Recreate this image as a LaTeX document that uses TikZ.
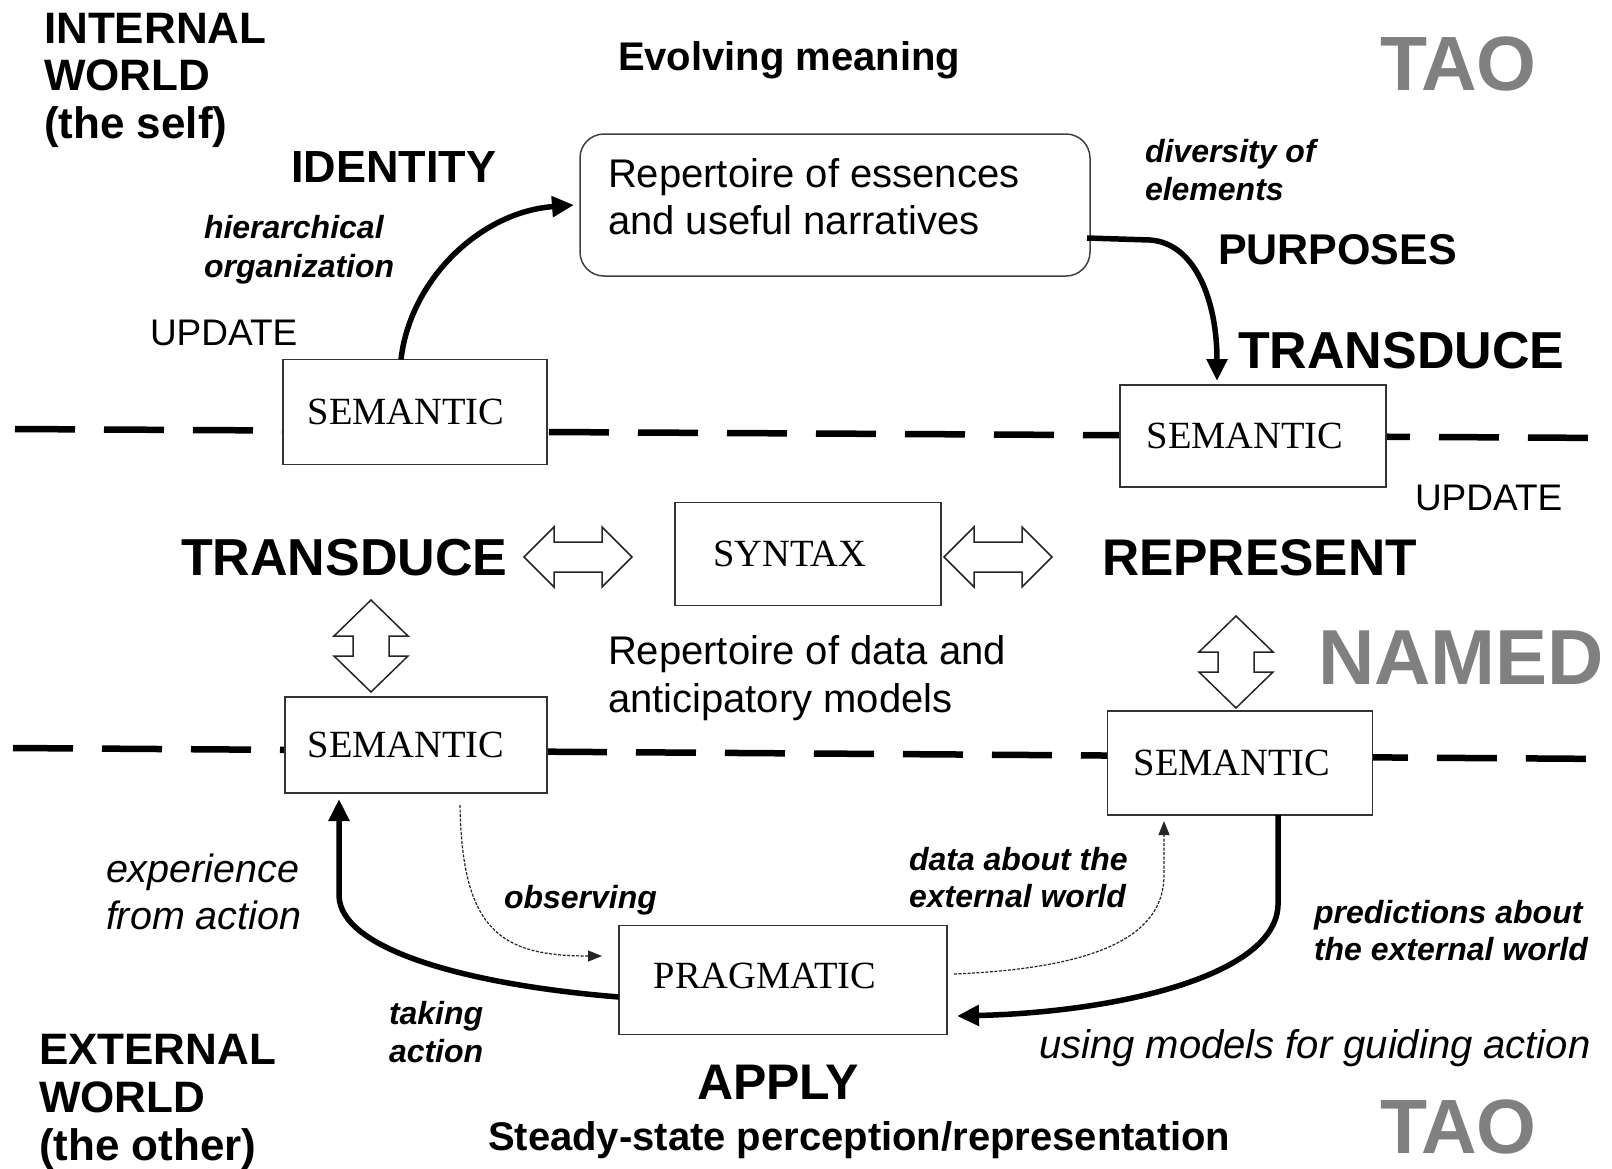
\documentclass[tikz,border=0pt]{standalone}
\usepackage{fontspec}
\setmainfont{Liberation Sans}
\newfontfamily\boxfont{Liberation Serif}
\usetikzlibrary{arrows.meta}
\definecolor{taogray}{gray}{0.5}
\newcommand\fs[2]{\fontsize{#1}{#2}\selectfont}

\begin{document}
\begin{tikzpicture}[x=1pt,y=-1pt,
  every node/.style={inner sep=0pt, outer sep=0pt},
  lbl/.style={anchor=west, align=left},
  boxnode/.style={draw=black!80, line width=1.5pt, fill=white, font=\boxfont\fs{38.5}{40}},
  dashline/.style={line width=6.5pt, dash pattern=on 60pt off 29pt},
  flow/.style={line width=5.5pt, -{Triangle[length=22pt,width=20pt]}},
  probe/.style={line width=1.2pt, black!85, dash pattern=on 3pt off 1.5pt, -{Triangle[length=14pt,width=11pt]}},
  hollow/.style={draw=black!85, line width=1.5pt, fill=white, line join=miter},
  hdouble/.pic={\path[hollow] (-54,0) -- (-24,-30) -- (-24,-15) -- (24,-15) -- (24,-30)
     -- (54,0) -- (24,30) -- (24,15) -- (-24,15) -- (-24,30) -- cycle;},
  vdouble/.pic={\path[hollow] (0,-46) -- (37,-10) -- (18,-10) -- (18,10) -- (37,10)
     -- (0,46) -- (-37,10) -- (-18,10) -- (-18,-10) -- (-37,-10) -- cycle;}
]
\fill[white] (0,0) rectangle (1612,1168);
\useasboundingbox (0,0) rectangle (1612,1168);

% boundary lines between the three worlds
\draw[dashline] (15,429) -- (1612,438);
\draw[dashline] (13,748) -- (1612,759);

% boxes
\node[draw=black!75, line width=1.5pt, fill=white, rounded corners=24pt,
      minimum width=510pt, minimum height=142pt] (repbox) at (835,205) {};
\node[boxnode, minimum width=264pt, minimum height=105pt] (sem1) at (415,412) {\hspace*{-18pt}\raisebox{-1pt}{SEMANTIC}};
\node[boxnode, minimum width=266pt, minimum height=102pt] (sem2) at (1253,436) {\hspace*{-16pt}\raisebox{-2pt}{SEMANTIC}};
\node[boxnode, minimum width=266pt, minimum height=103pt] (syntax) at (808,554) {\hspace*{-36pt}\raisebox{-1pt}{SYNTAX}};
\node[boxnode, minimum width=262pt, minimum height=96pt] (sem3) at (416,745) {\hspace*{-20pt}\raisebox{-4pt}{SEMANTIC}};
\node[boxnode, minimum width=265pt, minimum height=104pt] (sem4) at (1240,763) {\hspace*{-16pt}\raisebox{-1pt}{SEMANTIC}};
\node[boxnode, minimum width=328pt, minimum height=109pt] (prag) at (783,980) {\hspace*{-36pt}\raisebox{8pt}{PRAGMATIC}};

% hollow double arrows
\pic (dl) at (578,557) {hdouble};
\pic (dr) at (998,557) {hdouble};
\pic (vl) at (371,646) {vdouble};
\pic (vr) at (1236,662) {vdouble};

% main cycle
\draw[flow] ([xshift=-14pt]sem1.north) .. controls (410,280) and (480,212) .. ([xshift=-6pt]repbox.west);
\draw[flow] ([xshift=-3pt,yshift=-33pt]repbox.east) -- (1150,240)
   .. controls (1195,243) and (1217,300) .. ([xshift=-36pt,yshift=4pt]sem2.north);
\draw[flow] ([yshift=-17pt]prag.west) .. controls (470,985) and (339,950) .. (339,895)
   -- ([xshift=-77pt,yshift=-6pt]sem3.south);
\draw[flow] ([xshift=38pt]sem4.south) -- (1278,905)
   .. controls (1276,975) and (1120,1012) .. ([xshift=10pt,yshift=-36pt]prag.east);
\draw[probe] ([xshift=44pt,yshift=-12pt]sem3.south) .. controls (462,930) and (500,956)
   .. ([xshift=-17pt,yshift=24pt]prag.west);
\draw[probe] ([xshift=7pt,yshift=6pt]prag.east) .. controls (1100,968) and (1164,935)
   .. (1164,875) -- ([xshift=-76pt,yshift=-6pt]sem4.south);

% labels
\node[lbl, font=\bfseries\fs{44}{47.5}] (inner) at (44,80) {INTERNAL\\WORLD\\(the self)};
\node[lbl, font=\bfseries\fs{40}{48}] (evolve) at (618,60) {Evolving meaning};
\node[lbl, font=\bfseries\fs{77}{80}, text=taogray] (tao1) at (1380,64) {TAO};
\node[lbl, font=\bfseries\fs{45}{50}] (identity) at (291,167) {IDENTITY};
\node[lbl, font=\bfseries\itshape\fs{32}{39}] (hier) at (204,250) {hierarchical\\organization};
\node[lbl, font=\fs{40}{47}] (esstext) at (608,197) {Repertoire of essences\\and useful narratives};
\node[lbl, font=\bfseries\itshape\fs{32}{38}] (divers) at (1145,170) {diversity of\\elements};
\node[lbl, font=\bfseries\fs{43}{48}] (purp) at (1218,250) {PURPOSES};
\node[lbl, font=\fs{37}{40}] (upd1) at (150,333) {UPDATE};
\node[lbl, font=\bfseries\fs{52}{56}] (trans1) at (1238,351) {TRANSDUCE};
\node[lbl, font=\fs{37}{40}] (upd2) at (1415,498) {UPDATE};
\node[lbl, font=\bfseries\fs{52}{56}] (trans2) at (181,558) {TRANSDUCE};
\node[lbl, font=\bfseries\fs{51.5}{56}] (repr) at (1102,558) {REPRESENT};
\node[lbl, font=\bfseries\fs{78}{80}, text=taogray] (named) at (1318,658) {NAMED};
\node[lbl, font=\fs{40}{48}] (datatext) at (608,678) {Repertoire of data and\\anticipatory models};
\node[lbl, font=\itshape\fs{39.5}{47}] (exper) at (106,892) {experience\\from action};
\node[lbl, font=\bfseries\itshape\fs{32}{37}] (obs) at (504,900) {observing};
\node[lbl, font=\bfseries\itshape\fs{32}{37}] (dataext) at (909,878) {data about the\\external world};
\node[lbl, font=\bfseries\itshape\fs{32}{37}] (pred) at (1314,931) {predictions about\\the external world};
\node[lbl, font=\bfseries\itshape\fs{32}{38}] (taking) at (389,1032) {taking\\action};
\node[lbl, font=\itshape\fs{40}{48}] (using) at (1039,1048) {using models for guiding action};
\node[lbl, font=\bfseries\fs{44}{48}] (ext) at (39,1102) {EXTERNAL\\WORLD\\(the other)};
\node[lbl, font=\bfseries\fs{50}{56}] (apply) at (697,1082) {APPLY};
\node[lbl, font=\bfseries\fs{40}{48}] (steady) at (488,1140) {Steady-state perception/representation};
\node[lbl, font=\bfseries\fs{77}{80}, text=taogray] (tao2) at (1380,1127) {TAO};
\end{tikzpicture}
\end{document}
